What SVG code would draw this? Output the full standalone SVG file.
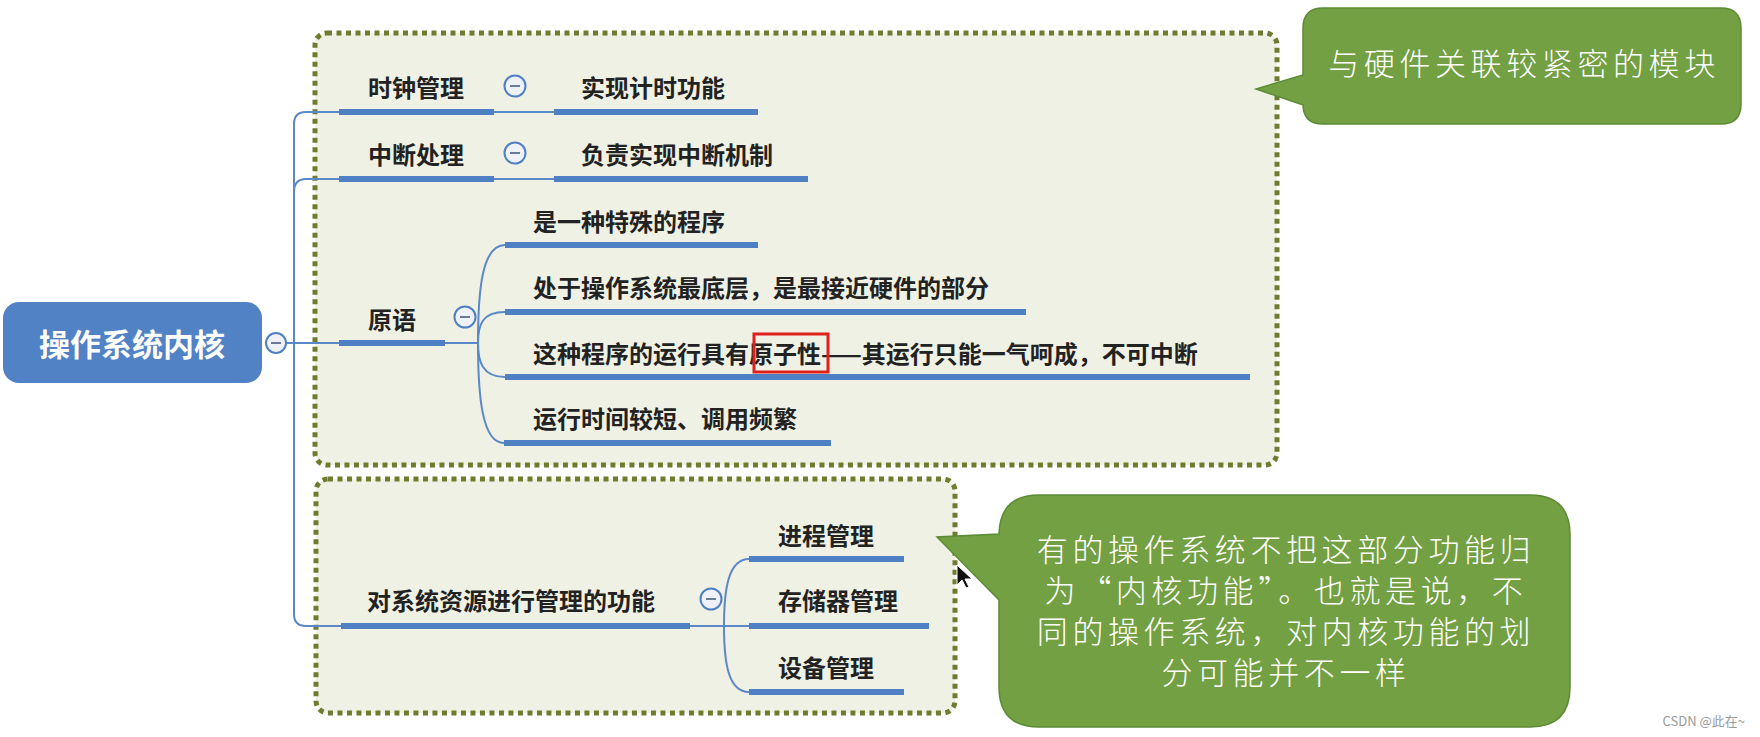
<svg xmlns="http://www.w3.org/2000/svg" width="1760" height="737" viewBox="0 0 1760 737">
<defs>
<style>
.box{fill:#eff1e4;stroke:#6f7c2f;stroke-width:5;stroke-dasharray:5 4.5}
.ul{stroke:#4f80c4;stroke-width:6;stroke-linecap:butt}
.cn{fill:none;stroke:#5a88c8;stroke-width:2}
.t{font-family:"Noto Sans CJK SC","Noto Sans",sans-serif;font-size:24px;font-weight:700;fill:#222}
.cw{font-family:"Noto Sans CJK SC","Noto Sans",sans-serif;font-size:31px;font-weight:300;letter-spacing:4.6px;fill:#fff;text-anchor:middle}
.call{fill:#72a042;stroke:#5d8a35;stroke-width:1.5}
.tg circle{fill:#eef2f8;stroke:#4f80c4;stroke-width:2}
.tg line{stroke:#6b7a96;stroke-width:2}
</style>
</defs>
<rect width="1760" height="737" fill="#fff"/>

<g id="boundary-hardware"><rect class="box" x="315" y="33" width="962" height="432" rx="12"/></g>
<g id="boundary-resource"><rect class="box" x="316" y="479" width="639" height="234" rx="12"/></g>

<g id="connectors">
<path class="cn" d="M286,343 H339"/>
<path class="cn" d="M339,112 H306 Q294,112 294,124 V614 Q294,626 306,626 H341"/>
<path class="cn" d="M294,192 Q294,179 306,179 H339"/>
<path class="cn" d="M494,112 H554"/>
<path class="cn" d="M494,179 H554"/>
<path class="cn" d="M445,343 H478"/>
<path class="cn" d="M478,343 C478,290 482,245 505,245"/>
<path class="cn" d="M478,343 C478,325 482,312 505,312"/>
<path class="cn" d="M478,343 C478,361 482,377 505,377"/>
<path class="cn" d="M478,343 C478,396 482,443 504,443"/>
<path class="cn" d="M690,626 H749"/>
<path class="cn" d="M724,626 C724,590 728,559 749,559"/>
<path class="cn" d="M724,626 C724,662 728,692 749,692"/>
</g>

<g id="root">
<rect x="3" y="302" width="259" height="81" rx="16" fill="#5282c6"/>
<text x="132" y="356" text-anchor="middle" font-family="Noto Sans CJK SC, Noto Sans, sans-serif" font-size="31" font-weight="700" fill="#fff">操作系统内核</text>
<g class="tg"><circle cx="276" cy="343" r="10"/><line x1="271" y1="343" x2="281" y2="343"/></g>
</g>

<g id="clock">
<text class="t" x="368" y="97">时钟管理</text>
<line class="ul" x1="339" y1="112" x2="494" y2="112"/>
<g class="tg"><circle cx="515" cy="86" r="10.5"/><line x1="510" y1="86" x2="520" y2="86"/></g>
</g>
<g id="clock-child">
<text class="t" x="581" y="97">实现计时功能</text>
<line class="ul" x1="554" y1="112" x2="758" y2="112"/>
</g>

<g id="interrupt">
<text class="t" x="368" y="164">中断处理</text>
<line class="ul" x1="339" y1="179" x2="494" y2="179"/>
<g class="tg"><circle cx="515" cy="153" r="10.5"/><line x1="510" y1="153" x2="520" y2="153"/></g>
</g>
<g id="interrupt-child">
<text class="t" x="581" y="164">负责实现中断机制</text>
<line class="ul" x1="554" y1="179" x2="808" y2="179"/>
</g>

<g id="primitive">
<text class="t" x="368" y="329">原语</text>
<line class="ul" x1="339" y1="343" x2="445" y2="343"/>
<g class="tg"><circle cx="465" cy="317" r="10.5"/><line x1="460" y1="317" x2="470" y2="317"/></g>
</g>
<g id="prim-1">
<text class="t" x="533" y="231">是一种特殊的程序</text>
<line class="ul" x1="505" y1="245" x2="758" y2="245"/>
</g>
<g id="prim-2">
<text class="t" x="533" y="297">处于操作系统最底层，是最接近硬件的部分</text>
<line class="ul" x1="505" y1="312" x2="1026" y2="312"/>
</g>
<g id="prim-3">
<text class="t" x="533" y="363">这种程序的运行具有原子性——其运行只能一气呵成，不可中断</text>
<line class="ul" x1="505" y1="377" x2="1250" y2="377"/>
<rect x="754" y="334" width="74" height="38" fill="none" stroke="#e0201c" stroke-width="3"/>
</g>
<g id="prim-4">
<text class="t" x="533" y="428">运行时间较短、调用频繁</text>
<line class="ul" x1="504" y1="443" x2="831" y2="443"/>
</g>

<g id="resource">
<text class="t" x="367" y="610">对系统资源进行管理的功能</text>
<line class="ul" x1="341" y1="626" x2="690" y2="626"/>
<g class="tg"><circle cx="711" cy="599" r="10.5"/><line x1="706" y1="599" x2="716" y2="599"/></g>
</g>
<g id="res-1">
<text class="t" x="778" y="545">进程管理</text>
<line class="ul" x1="749" y1="559" x2="904" y2="559"/>
</g>
<g id="res-2">
<text class="t" x="778" y="610">存储器管理</text>
<line class="ul" x1="749" y1="626" x2="929" y2="626"/>
</g>
<g id="res-3">
<text class="t" x="778" y="677">设备管理</text>
<line class="ul" x1="749" y1="692" x2="904" y2="692"/>
</g>

<g id="callout-hardware">
<path class="call" d="M1323,8 H1721 Q1741,8 1741,28 V104 Q1741,124 1721,124 H1323 Q1303,124 1303,104 L1303,105 L1256,89 L1303,75 V28 Q1303,8 1323,8 Z"/>
<text class="cw" x="1524" y="75">与硬件关联较紧密的模块</text>
</g>

<g id="callout-kernel">
<path class="call" d="M999,600 L937,537 L999,534 Q1000,495 1039,495 H1530 Q1570,495 1570,535 V687 Q1570,727 1530,727 H1039 Q999,727 999,687 Z"/>
<text class="cw" x="1286" y="561">有的操作系统不把这部分功能归</text>
<text class="cw" x="1286" y="602">为“内核功能”。也就是说，不</text>
<text class="cw" x="1286" y="643">同的操作系统，对内核功能的划</text>
<text class="cw" x="1286" y="684">分可能并不一样</text>
</g>

<path d="M957,565 V585 L962,580 L966,588 L969,587 L965,579 L972,579 Z" fill="#111" stroke="#fff" stroke-width="1"/>

<text x="1745" y="726" text-anchor="end" font-family="Noto Sans CJK SC, Noto Sans, sans-serif" font-size="13" fill="#999">CSDN @此在~</text>
</svg>
